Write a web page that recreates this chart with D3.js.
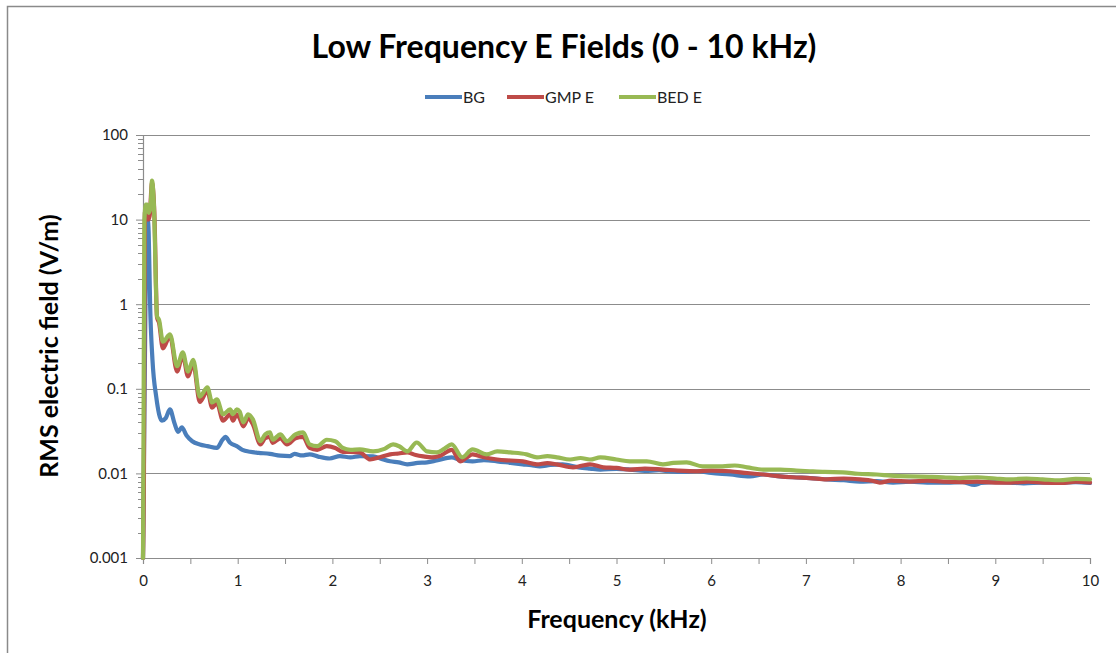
<!DOCTYPE html>
<html>
<head>
<meta charset="utf-8">
<script src="https://cdn.jsdelivr.net/npm/d3@7"></script>
<style>
  body { margin: 0; background: #fff; }
  text { font-family: Lato, "Open Sans", sans-serif; }
</style>
</head>
<body>
<div class="container"></div>
<script>
// frequency in kHz, RMS field in V/m
var bg = [
  [0, 0.001], [0.03, 3], [0.05, 10], [0.06, 7], [0.075, 1.0], [0.1, 0.22],
  [0.14, 0.08], [0.2, 0.042], [0.24, 0.045], [0.285, 0.057], [0.33, 0.04],
  [0.37, 0.031], [0.41, 0.035], [0.46, 0.028], [0.52, 0.024], [0.6, 0.022],
  [0.68, 0.021], [0.78, 0.020], [0.84, 0.025], [0.87, 0.027], [0.92, 0.023],
  [0.99, 0.021], [1.05, 0.019], [1.13, 0.018], [1.22, 0.0175], [1.34, 0.017],
  [1.45, 0.0162], [1.55, 0.016], [1.6, 0.017], [1.68, 0.0163], [1.76, 0.0168],
  [1.85, 0.0158], [1.97, 0.015], [2.08, 0.016], [2.19, 0.0155], [2.29, 0.016],
  [2.43, 0.0159], [2.52, 0.0148], [2.61, 0.0139], [2.7, 0.0135], [2.79, 0.0128],
  [2.9, 0.0133], [3.0, 0.0135], [3.1, 0.0142], [3.26, 0.0155], [3.35, 0.0144],
  [3.48, 0.0139], [3.6, 0.0143], [3.74, 0.0139], [3.88, 0.0133], [4.01, 0.0128],
  [4.1, 0.0125], [4.19, 0.0121], [4.3, 0.0126], [4.43, 0.0128], [4.6, 0.0118],
  [4.72, 0.0114], [4.83, 0.0111], [5.0, 0.0113], [5.14, 0.0111], [5.3, 0.0107],
  [5.45, 0.0109], [5.56, 0.0106], [5.7, 0.0104], [5.85, 0.0106], [6.0, 0.0101],
  [6.2, 0.0097], [6.41, 0.0092], [6.55, 0.0097], [6.7, 0.0093], [6.86, 0.009],
  [7.05, 0.0088], [7.22, 0.0085], [7.4, 0.0083], [7.57, 0.008], [7.75, 0.0081],
  [7.92, 0.0078], [8.1, 0.0080], [8.28, 0.0078], [8.49, 0.0078], [8.65, 0.0079],
  [8.78, 0.0073], [8.85, 0.0077], [9.0, 0.0079], [9.16, 0.0078], [9.3, 0.0076],
  [9.5, 0.0078], [9.7, 0.0077], [9.85, 0.0079], [10, 0.0077]
];

var gmp = [
  [0, 0.001], [0.01, 0.01], [0.02, 12], [0.04, 14], [0.055, 10], [0.07, 11],
  [0.095, 27], [0.12, 12], [0.148, 0.7], [0.17, 0.6], [0.21, 0.3], [0.285, 0.42],
  [0.36, 0.16], [0.42, 0.25], [0.475, 0.14], [0.53, 0.2], [0.6, 0.07],
  [0.68, 0.095], [0.73, 0.06], [0.78, 0.068], [0.845, 0.042], [0.92, 0.05],
  [0.95, 0.042], [0.99, 0.05], [1.02, 0.045], [1.06, 0.036], [1.11, 0.045],
  [1.16, 0.038], [1.24, 0.022], [1.29, 0.026], [1.34, 0.027], [1.37, 0.023],
  [1.45, 0.026], [1.52, 0.022], [1.61, 0.026], [1.69, 0.027], [1.76, 0.02],
  [1.84, 0.019], [1.94, 0.021], [2.03, 0.02], [2.11, 0.018], [2.19, 0.018],
  [2.29, 0.0177], [2.40, 0.0146], [2.5, 0.0155], [2.61, 0.0168], [2.7, 0.0172],
  [2.79, 0.0177], [2.88, 0.0165], [2.96, 0.0159], [3.05, 0.0155], [3.14, 0.0162],
  [3.26, 0.019], [3.35, 0.0139], [3.42, 0.0155], [3.48, 0.0168], [3.6, 0.0155],
  [3.74, 0.0146], [3.88, 0.0142], [4.01, 0.0139], [4.16, 0.0128], [4.27, 0.0132],
  [4.37, 0.0128], [4.54, 0.0118], [4.63, 0.0123], [4.72, 0.0128], [4.86, 0.0118],
  [5.0, 0.0116], [5.14, 0.0111], [5.3, 0.0114], [5.49, 0.0111], [5.65, 0.0108],
  [5.85, 0.0106], [6.0, 0.0108], [6.2, 0.0106], [6.38, 0.0101], [6.55, 0.0097],
  [6.7, 0.0093], [6.86, 0.009], [7.04, 0.0088], [7.22, 0.0085], [7.4, 0.0087],
  [7.57, 0.0085], [7.7, 0.0082], [7.78, 0.0078], [7.9, 0.0082], [8.1, 0.0080],
  [8.28, 0.0082], [8.45, 0.008], [8.65, 0.0079], [8.81, 0.008], [9.0, 0.0078],
  [9.16, 0.0078], [9.35, 0.008], [9.5, 0.0078], [9.7, 0.0077], [9.85, 0.0080],
  [10, 0.0078]
];

var bed = [
  [0, 0.001], [0.005, 0.02], [0.015, 10], [0.03, 15], [0.045, 15], [0.06, 12],
  [0.08, 14], [0.095, 29], [0.115, 15], [0.148, 0.72], [0.17, 0.65], [0.21, 0.36],
  [0.285, 0.44], [0.36, 0.185], [0.42, 0.27], [0.475, 0.16], [0.53, 0.22],
  [0.6, 0.081], [0.68, 0.104], [0.73, 0.069], [0.78, 0.075], [0.845, 0.05],
  [0.92, 0.057], [0.95, 0.05], [0.99, 0.057], [1.02, 0.054], [1.06, 0.04],
  [1.11, 0.05], [1.16, 0.0435], [1.24, 0.024], [1.29, 0.029], [1.34, 0.0305],
  [1.37, 0.025], [1.45, 0.029], [1.52, 0.024], [1.61, 0.029], [1.69, 0.0305],
  [1.76, 0.022], [1.84, 0.021], [1.94, 0.025], [2.03, 0.024], [2.11, 0.02],
  [2.19, 0.019], [2.29, 0.0192], [2.43, 0.0182], [2.55, 0.0195], [2.64, 0.022],
  [2.71, 0.0208], [2.79, 0.0182], [2.89, 0.0232], [3.0, 0.0182], [3.1, 0.0177],
  [3.18, 0.0195], [3.26, 0.022], [3.37, 0.0155], [3.48, 0.0192], [3.63, 0.0168],
  [3.74, 0.0182], [3.88, 0.0177], [4.05, 0.0168], [4.16, 0.0155], [4.27, 0.016],
  [4.37, 0.0155], [4.51, 0.0146], [4.62, 0.0152], [4.72, 0.0146], [4.83, 0.0155],
  [5.0, 0.0146], [5.14, 0.0139], [5.32, 0.0139], [5.49, 0.0128], [5.6, 0.0133],
  [5.74, 0.0135], [5.91, 0.0121], [6.12, 0.0121], [6.25, 0.0124], [6.38, 0.0118],
  [6.55, 0.0111], [6.73, 0.0111], [6.9, 0.0108], [7.04, 0.0106], [7.2, 0.0104],
  [7.39, 0.0103], [7.55, 0.0099], [7.75, 0.0097], [7.9, 0.0094], [8.1, 0.0092],
  [8.3, 0.0091], [8.45, 0.009], [8.62, 0.0088], [8.81, 0.009], [9.0, 0.0087],
  [9.16, 0.0085], [9.33, 0.0087], [9.5, 0.0085], [9.68, 0.0083], [9.85, 0.0086],
  [10, 0.0085]
];

var series_names = ["BG", "GMP E", "BED E"];
var series_data = [bg, gmp, bed];
var series_colors = ["#4a7ebb", "#be4b48", "#98b954"];

var x_ticks = [0, 1, 2, 3, 4, 5, 6, 7, 8, 9, 10];
var y_ticks = [0.001, 0.01, 0.1, 1, 10, 100];
var y_tick_labels = ["0.001", "0.01", "0.1", "1", "10", "100"];

var width = 1116, height = 653;
var plot = {left: 143, right: 1090, top: 135, bottom: 558};

var x_scale = d3.scaleLinear().domain([0, 10]).range([plot.left, plot.right]);
var y_scale = d3.scaleLog().domain([0.001, 100]).range([plot.bottom, plot.top]);

var svg = d3.select("div.container").append("svg")
    .attr("width", width)
    .attr("height", height);

// chart area border
svg.append("rect")
    .attr("x", 7.5).attr("y", 6.5)
    .attr("width", 1120).attr("height", 680)
    .attr("fill", "none")
    .attr("stroke", "#8a8a8a")
    .attr("stroke-width", 1.5);

// gridlines at each decade
svg.append("g")
  .selectAll("line")
  .data(y_ticks.slice(1))
  .enter().append("line")
    .attr("x1", plot.left).attr("x2", plot.right)
    .attr("y1", function(d) { return Math.round(y_scale(d)) + 0.5; })
    .attr("y2", function(d) { return Math.round(y_scale(d)) + 0.5; })
    .attr("stroke", "#8c8c8c")
    .attr("stroke-width", 1.2);

// y axis with minor log ticks
var minor = [];
for (var e = -3; e < 2; e++) {
  for (var m = 2; m < 10; m++) minor.push(m * Math.pow(10, e));
}
var y_axis = svg.append("g")
    .attr("transform", "translate(" + plot.left + ",0)")
    .call(d3.axisLeft(y_scale).tickValues(y_ticks)
      .tickFormat(function(d, i) { return y_tick_labels[i]; })
      .tickSize(7).tickPadding(8));
y_axis.append("g").selectAll("line")
  .data(minor)
  .enter().append("line")
    .attr("x1", -5).attr("x2", 0)
    .attr("y1", function(d) { return Math.round(y_scale(d)) + 0.5; })
    .attr("y2", function(d) { return Math.round(y_scale(d)) + 0.5; })
    .attr("stroke", "#8c8c8c");

// x axis, ticks every 0.5
var x_axis = svg.append("g")
    .attr("transform", "translate(0," + plot.bottom + ")")
    .call(d3.axisBottom(x_scale).tickValues(d3.range(0, 10.01, 0.5))
      .tickFormat(function(d) { return x_ticks.indexOf(d) >= 0 ? d : ""; })
      .tickSize(6).tickPadding(11));

[y_axis, x_axis].forEach(function(ax) {
  ax.select(".domain").attr("stroke", "#8c8c8c").attr("stroke-width", 1.2);
  ax.selectAll(".tick line").attr("stroke", "#8c8c8c");
  ax.selectAll(".tick text")
    .attr("fill", "#222")
    .style("font-size", "15px")
    .style("font-family", "Lato, sans-serif");
});

// series lines
var line = d3.line()
    .curve(d3.curveMonotoneX)
    .x(function(d) { return x_scale(d[0]); })
    .y(function(d) { return y_scale(d[1]); });

series_data.forEach(function(dat, i) {
  svg.append("path")
      .datum(dat)
      .attr("fill", "none")
      .attr("stroke", series_colors[i])
      .attr("stroke-width", 4.2)
      .attr("stroke-linejoin", "round")
      .attr("stroke-linecap", "round")
      .attr("d", line);
});

// title
svg.append("text")
    .attr("x", 564).attr("y", 58)
    .attr("text-anchor", "middle")
    .style("font-size", "32px")
    .style("font-weight", "bold")
    .attr("fill", "#000")
    .text("Low Frequency E Fields (0 - 10 kHz)");

// legend
var legend_x = [425, 507, 619];
series_names.forEach(function(name, i) {
  var g = svg.append("g").attr("transform", "translate(" + legend_x[i] + ",97)");
  g.append("line")
      .attr("x1", 0).attr("x2", 37)
      .attr("stroke", series_colors[i])
      .attr("stroke-width", 4.2);
  g.append("text")
      .attr("x", 38).attr("y", 6)
      .style("font-size", "16px")
      .attr("fill", "#222")
      .text(name);
});

// axis titles
svg.append("text")
    .attr("transform", "translate(58,346) rotate(-90)")
    .attr("text-anchor", "middle")
    .style("font-size", "25px")
    .style("font-weight", "bold")
    .attr("fill", "#000")
    .text("RMS electric field (V/m)");

svg.append("text")
    .attr("x", 617).attr("y", 628)
    .attr("text-anchor", "middle")
    .style("font-size", "25px")
    .style("font-weight", "bold")
    .attr("fill", "#000")
    .text("Frequency (kHz)");
</script>
</body>
</html>
